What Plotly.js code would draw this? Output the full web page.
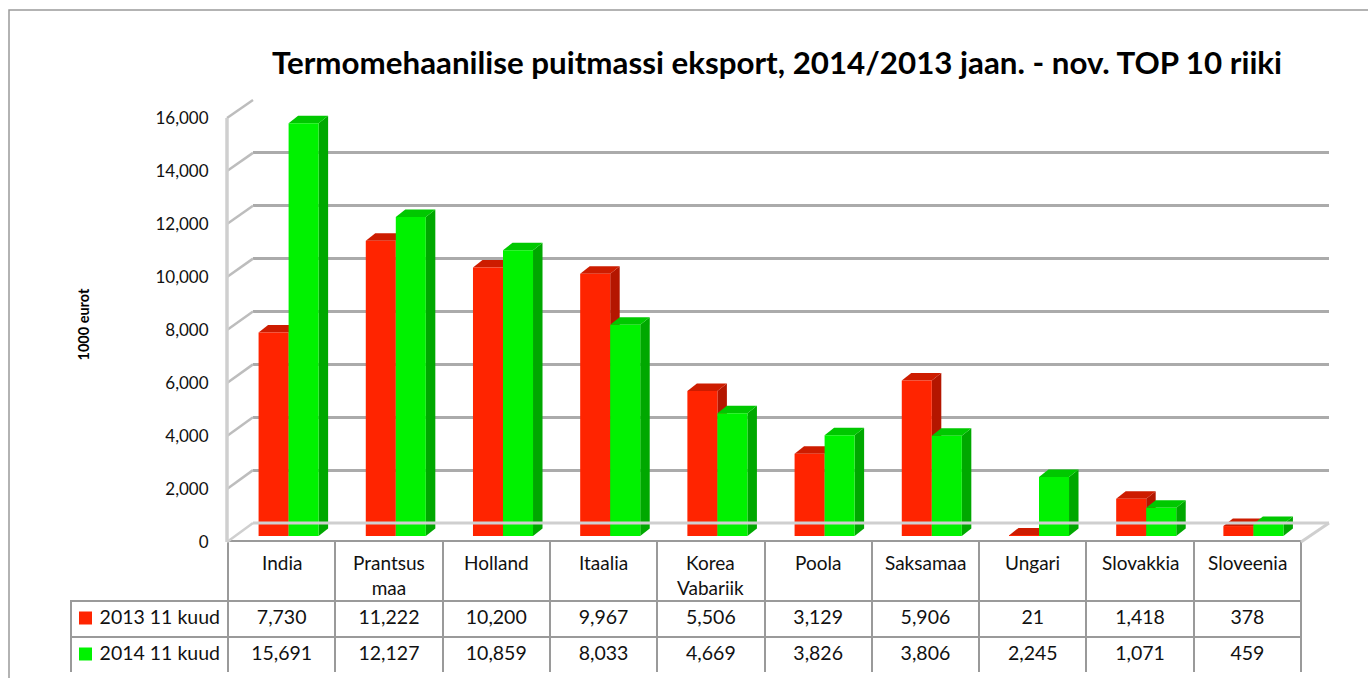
<!DOCTYPE html>
<html>
<head>
<meta charset="utf-8">
<script src="https://cdn.plot.ly/plotly-3.0.1.min.js"></script>
<style>html,body{margin:0;padding:0;background:#fff;}#chart{width:1368px;height:678px;}</style>
</head>
<body>
<div id="chart"></div>
<script>
// ---------- data ----------
const categories = ['India', 'Prantsus maa', 'Holland', 'Itaalia', 'Korea Vabariik', 'Poola', 'Saksamaa', 'Ungari', 'Slovakkia', 'Sloveenia'];
const series2013 = [7730, 11222, 10200, 9967, 5506, 3129, 5906, 21, 1418, 378];
const series2014 = [15691, 12127, 10859, 8033, 4669, 3826, 3806, 2245, 1071, 459];
const seriesNames = ['2013 11 kuud', '2014 11 kuud'];
const yTickValues = [0, 2000, 4000, 6000, 8000, 10000, 12000, 14000, 16000];
const chartTitle = 'Termomehaanilise puitmassi eksport, 2014/2013 jaan. - nov. TOP 10 riiki';
const yTitle = '1000 eurot';

// ---------- styling ----------
const W = 1368, H = 678;
const FONT = "Lato, 'Open Sans', 'DejaVu Sans', sans-serif";
const RED = 'rgb(255,36,0)', RED_SIDE = 'rgb(180,22,0)', RED_TOP = 'rgb(205,28,0)';
const GREEN = 'rgb(0,242,0)', GREEN_SIDE = 'rgb(0,168,0)', GREEN_TOP = 'rgb(0,200,0)';
const GRID = '#ababab', WALL = '#cfcfcf', TABLE_LINE = '#9a9a9a';
const px = x => x / W;
const py = y => 1 - y / H;

// bar geometry (category units / data units)
const BW = 0.28;              // width of one bar
const DX = 9.5 / 107.2;       // depth offset in x
const DY = 7.5 * 16000 / 421; // depth offset in y

// front / back wall pixel mapping
const YMAX = 16000;
const frontY = v => 542 - v * 424 / YMAX;
const backY = v => 523 - v * 423 / YMAX;

const shapes = [];
function addFaces(values, offset, sideColor, topColor) {
  values.forEach((v, i) => {
    const x0 = i + offset, x1 = x0 + BW;
    shapes.push({type: 'path', xref: 'x2', yref: 'y2', layer: 'between', line: {width: 0}, fillcolor: sideColor,
      path: `M${x1},0 L${x1 + DX},${DY} L${x1 + DX},${v + DY} L${x1},${v} Z`});
    shapes.push({type: 'path', xref: 'x2', yref: 'y2', layer: 'between', line: {width: 0}, fillcolor: topColor,
      path: `M${x0},${v} L${x0 + DX},${v + DY} L${x1 + DX},${v + DY} L${x1},${v} Z`});
  });
}
addFaces(series2013, -BW, RED_SIDE, RED_TOP);
addFaces(series2014, 0, GREEN_SIDE, GREEN_TOP);

// wall diagonals at each tick
yTickValues.forEach(v => {
  shapes.push({type: 'line', xref: 'paper', yref: 'paper', layer: 'above',
    x0: px(227), y0: py(frontY(v)), x1: px(253), y1: py(backY(v)), line: {color: v === 0 ? WALL : '#bdbdbd', width: 2.5}});
});
// front-left wall edge
shapes.push({type: 'line', xref: 'paper', yref: 'paper', layer: 'above',
  x0: px(227), y0: py(frontY(YMAX)), x1: px(227), y1: py(frontY(0)), line: {color: WALL, width: 3.5}});
// floor edges
shapes.push({type: 'line', xref: 'paper', yref: 'paper', layer: 'above',
  x0: px(1301), y0: py(frontY(0)), x1: px(1329), y1: py(backY(0)), line: {color: WALL, width: 3}});
shapes.push({type: 'line', xref: 'paper', yref: 'paper', layer: 'above',
  x0: px(253), y0: py(backY(0)), x1: px(1329), y1: py(backY(0)), line: {color: WALL, width: 3}});
// outer frame (left + top)
shapes.push({type: 'path', xref: 'paper', yref: 'paper', layer: 'below',
  path: `M${px(9)},${py(700)} L${px(9)},${py(10)} L${px(1400)},${py(10)}`, line: {color: '#9a9a9a', width: 1.5}});
// legend keys in the data table
[RED, GREEN].forEach((col, k) => {
  const yc = 618 + k * 36;
  shapes.push({type: 'rect', xref: 'paper', yref: 'paper', layer: 'above',
    x0: px(79), x1: px(92), y0: py(yc - 6.5), y1: py(yc + 6.5), fillcolor: col, line: {width: 0}});
});

const xIdx = categories.map((c, i) => i);
const bars2013 = {type: 'bar', name: seriesNames[0], x: xIdx, y: series2013,
  xaxis: 'x2', yaxis: 'y2', marker: {color: RED, line: {width: 0}}, width: BW, offset: -BW, showlegend: false,
  text: categories, hovertemplate: '%{text}: %{y:,}<extra>' + seriesNames[0] + '</extra>', textposition: 'none'};
const bars2014 = {type: 'bar', name: seriesNames[1], x: xIdx, y: series2014,
  xaxis: 'x2', yaxis: 'y2', marker: {color: GREEN, line: {width: 0}}, width: BW, offset: 0, showlegend: false,
  text: categories, hovertemplate: '%{text}: %{y:,}<extra>' + seriesNames[1] + '</extra>', textposition: 'none'};

const table = {
  type: 'table',
  domain: {x: [px(71), px(1301)], y: [py(673), py(541)]},
  columnwidth: [157].concat(categories.map(() => 107.3)),
  header: {
    values: [''].concat(categories.map(() => '')),
    height: 60, align: 'center',
    font: {family: FONT, size: 19, color: '#111'},
    fill: {color: ['rgba(0,0,0,0)'].concat(categories.map(() => 'white'))},
    line: {color: ['rgba(0,0,0,0)'].concat(categories.map(() => TABLE_LINE)), width: 2}
  },
  cells: {
    values: [seriesNames].concat(categories.map((c, i) => [series2013[i], series2014[i]])),
    format: [''].concat(categories.map(() => ',')),
    height: 36, align: ['right'].concat(categories.map(() => 'center')),
    font: {family: FONT, size: 19.5, color: '#111'},
    fill: {color: 'white'},
    line: {color: TABLE_LINE, width: 2}
  }
};

// category labels for the table header row (centred per line)
const headerAnnotations = categories.map((c, i) => ({
  text: c.replace(' ', '<br>'), xref: 'x3', yref: 'paper', x: i, y: py(549), xanchor: 'center', yanchor: 'top',
  align: 'center', showarrow: false, font: {family: FONT, size: 19, color: '#111'}
}));

const dummy = {type: 'scatter', x: [], y: [], xaxis: 'x', yaxis: 'y', showlegend: false, hoverinfo: 'skip'};
const dummy3 = {type: 'scatter', x: [], y: [], xaxis: 'x3', yaxis: 'y3', showlegend: false, hoverinfo: 'skip'};

const hidden = {showgrid: false, zeroline: false, showline: false, showticklabels: false, ticks: ''};

const layout = {
  width: W, height: H,
  margin: {l: 0, r: 0, t: 0, b: 0},
  paper_bgcolor: 'white', plot_bgcolor: 'rgba(0,0,0,0)',
  showlegend: false,
  font: {family: FONT, color: '#111'},
  title: {text: '<b>' + chartTitle + '</b>', font: {family: FONT, size: 31.3, color: '#000'},
    x: px(777), xanchor: 'center', xref: 'paper', y: py(63), yanchor: 'middle', yref: 'paper'},
  // back wall with gridlines
  xaxis: Object.assign({domain: [px(253), px(1329)], range: [0, 1], anchor: 'y', fixedrange: true}, hidden),
  yaxis: {domain: [py(523), py(100)], range: [0, YMAX], anchor: 'x', tickvals: yTickValues,
    showgrid: true, gridcolor: GRID, gridwidth: 2.5, zeroline: false, showline: false, showticklabels: false, ticks: '', fixedrange: true},
  // bars
  xaxis2: Object.assign({domain: [px(235), px(1307)], range: [-0.5, categories.length - 0.5], anchor: 'y2', fixedrange: true}, hidden),
  yaxis2: Object.assign({domain: [py(536), py(115)], range: [0, YMAX], anchor: 'x2', fixedrange: true}, hidden),
  // front tick labels and table columns
  xaxis3: Object.assign({domain: [px(228), px(1301)], range: [-0.5, categories.length - 0.5], anchor: 'y3', fixedrange: true}, hidden),
  yaxis3: {domain: [py(542), py(118)], range: [0, YMAX], anchor: 'x3', tickvals: yTickValues, tickformat: ',',
    showgrid: false, zeroline: false, showline: false, ticks: 'outside', ticklen: 15, tickcolor: 'rgba(0,0,0,0)',
    tickfont: {family: FONT, size: 17, color: '#111'}, fixedrange: true},
  bargap: 0.44, bargroupgap: 0,
  shapes: shapes,
  annotations: [{text: '<b>' + yTitle + '</b>', xref: 'paper', yref: 'paper', x: px(72), y: py(325),
    textangle: -90, showarrow: false, font: {family: FONT, size: 14.5, color: '#000'}}].concat(headerAnnotations)
};

Plotly.newPlot('chart', [dummy, bars2013, bars2014, dummy3, table], layout, {displayModeBar: false});
</script>
</body>
</html>
